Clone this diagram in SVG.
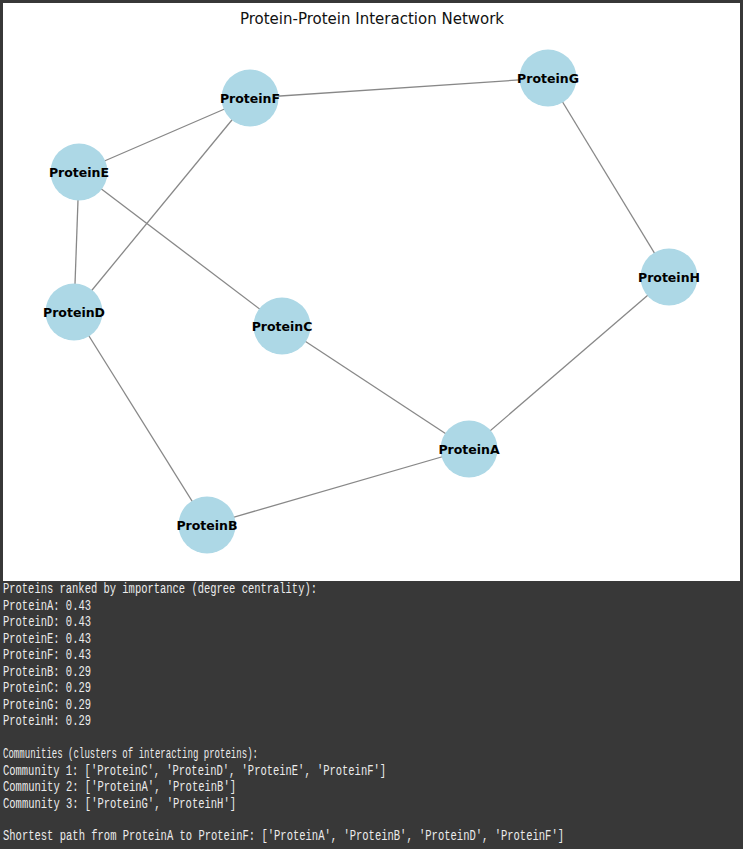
<svg xmlns="http://www.w3.org/2000/svg" width="743" height="849" viewBox="0 0 743 849">
<style>
.edge{stroke:#888;stroke-width:1.3;fill:none}
.node circle{fill:#add8e6}
.node text{font-family:"DejaVu Sans",sans-serif;font-weight:bold;font-size:12.5px;fill:#000;text-anchor:middle;dominant-baseline:central}
.con{font-family:"Liberation Mono","DejaVu Sans Mono",monospace;font-size:14px;fill:#ececec}
</style>
<rect x="0" y="0" width="743" height="849" fill="#383838"/>
<rect x="3" y="3" width="737" height="578" fill="#ffffff"/>
<text x="372" y="24" font-family="DejaVu Sans,sans-serif" font-size="15px" fill="#111" text-anchor="middle">Protein-Protein Interaction Network</text>
<g id="edges">
<line class="edge" x1="250" y1="98" x2="548" y2="78"/>
<line class="edge" x1="250" y1="98" x2="79" y2="172"/>
<line class="edge" x1="250" y1="98" x2="74" y2="312"/>
<line class="edge" x1="79" y1="172" x2="74" y2="312"/>
<line class="edge" x1="79" y1="172" x2="282" y2="326"/>
<line class="edge" x1="548" y1="78" x2="669" y2="277"/>
<line class="edge" x1="669" y1="277" x2="469" y2="449"/>
<line class="edge" x1="282" y1="326" x2="469" y2="449"/>
<line class="edge" x1="74" y1="312" x2="207" y2="525"/>
<line class="edge" x1="207" y1="525" x2="469" y2="449"/>
</g>
<g id="ProteinF" class="node"><circle cx="250" cy="98" r="28.5"/><text x="250" y="98">ProteinF</text></g>
<g id="ProteinG" class="node"><circle cx="548" cy="78" r="28.5"/><text x="548" y="78">ProteinG</text></g>
<g id="ProteinE" class="node"><circle cx="79" cy="172" r="28.5"/><text x="79" y="172">ProteinE</text></g>
<g id="ProteinH" class="node"><circle cx="669" cy="277" r="28.5"/><text x="669" y="277">ProteinH</text></g>
<g id="ProteinD" class="node"><circle cx="74" cy="312" r="28.5"/><text x="74" y="312">ProteinD</text></g>
<g id="ProteinC" class="node"><circle cx="282" cy="326" r="28.5"/><text x="282" y="326">ProteinC</text></g>
<g id="ProteinA" class="node"><circle cx="469" cy="449" r="28.5"/><text x="469" y="449">ProteinA</text></g>
<g id="ProteinB" class="node"><circle cx="207" cy="525" r="28.5"/><text x="207" y="525">ProteinB</text></g>
<g id="console" class="con">
<text x="3" y="593" textLength="314" lengthAdjust="spacingAndGlyphs">Proteins ranked by importance (degree centrality):</text>
<text x="3" y="610" textLength="88" lengthAdjust="spacingAndGlyphs">ProteinA: 0.43</text>
<text x="3" y="626" textLength="88" lengthAdjust="spacingAndGlyphs">ProteinD: 0.43</text>
<text x="3" y="643" textLength="88" lengthAdjust="spacingAndGlyphs">ProteinE: 0.43</text>
<text x="3" y="659" textLength="88" lengthAdjust="spacingAndGlyphs">ProteinF: 0.43</text>
<text x="3" y="676" textLength="88" lengthAdjust="spacingAndGlyphs">ProteinB: 0.29</text>
<text x="3" y="692" textLength="88" lengthAdjust="spacingAndGlyphs">ProteinC: 0.29</text>
<text x="3" y="709" textLength="88" lengthAdjust="spacingAndGlyphs">ProteinG: 0.29</text>
<text x="3" y="725" textLength="88" lengthAdjust="spacingAndGlyphs">ProteinH: 0.29</text>
<text x="3" y="758" textLength="255" lengthAdjust="spacingAndGlyphs">Communities (clusters of interacting proteins):</text>
<text x="3" y="775" textLength="383" lengthAdjust="spacingAndGlyphs">Community 1: ['ProteinC', 'ProteinD', 'ProteinE', 'ProteinF']</text>
<text x="3" y="791" textLength="233" lengthAdjust="spacingAndGlyphs">Community 2: ['ProteinA', 'ProteinB']</text>
<text x="3" y="808" textLength="233" lengthAdjust="spacingAndGlyphs">Community 3: ['ProteinG', 'ProteinH']</text>
<text x="3" y="840" textLength="561" lengthAdjust="spacingAndGlyphs">Shortest path from ProteinA to ProteinF: ['ProteinA', 'ProteinB', 'ProteinD', 'ProteinF']</text>
</g>
</svg>
